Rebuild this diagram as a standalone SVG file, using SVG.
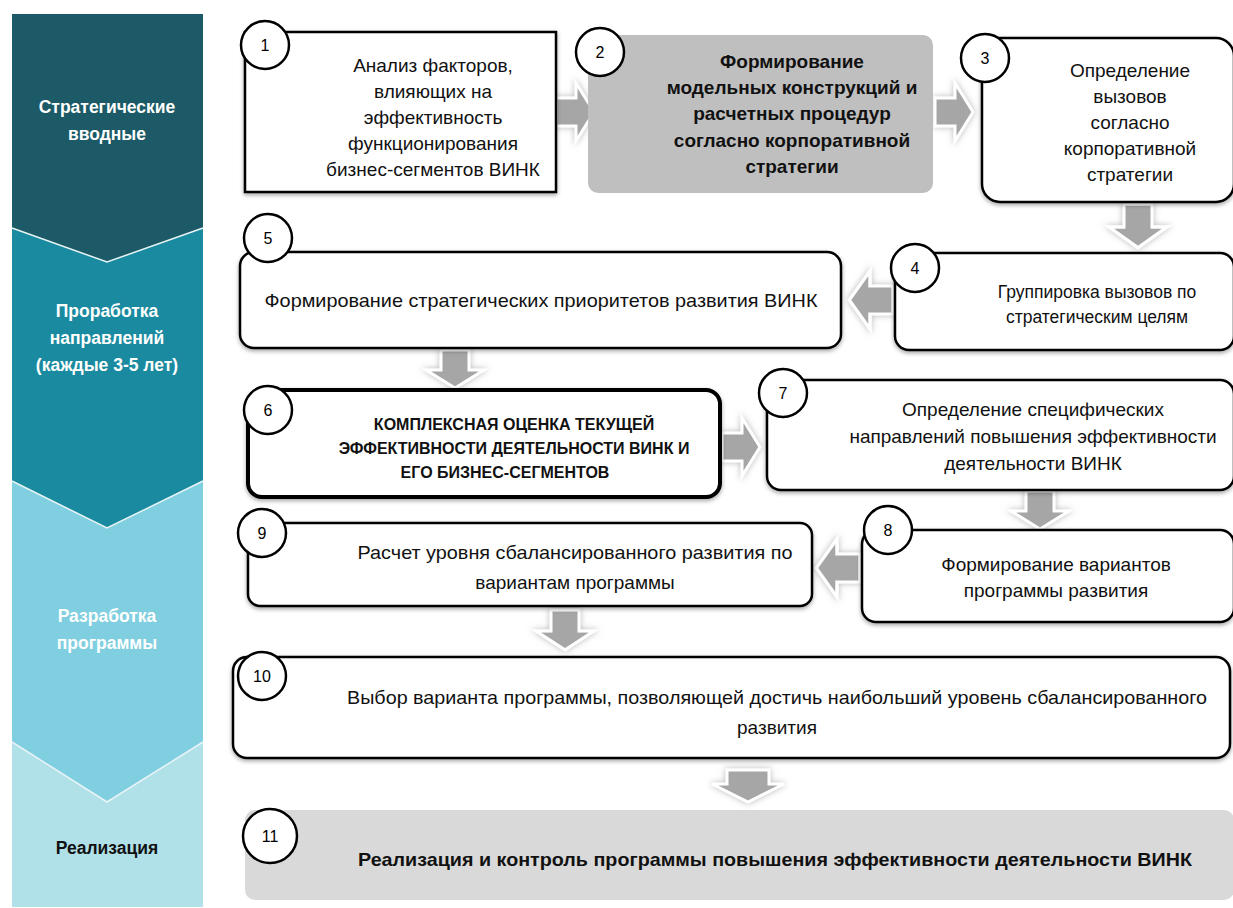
<svg xmlns="http://www.w3.org/2000/svg" width="1233" height="908" viewBox="0 0 1233 908">
<defs>
<filter id="sh" x="-20%" y="-20%" width="140%" height="140%">
<feDropShadow dx="0" dy="2" stdDeviation="2" flood-color="#000" flood-opacity="0.35"/>
</filter>
<filter id="ash" x="-40%" y="-40%" width="180%" height="180%">
<feDropShadow dx="0" dy="0" stdDeviation="3" flood-color="#888" flood-opacity="0.6"/>
</filter>
<path id="arr" d="M0,-14 H20 V-29 L38,0 L20,29 V14 H0 Z"/>
<style>
.box{fill:#fff;stroke:#000;stroke-width:2.5;filter:url(#sh)}
.num{fill:#fff;stroke:#000;stroke-width:2.5}
.n{font-family:"Liberation Sans",Arial,sans-serif;font-size:16px;fill:#000;text-anchor:middle}
.t{font-family:"Liberation Sans",Arial,sans-serif;font-size:19px;fill:#111;text-anchor:middle}
.tb{font-family:"Liberation Sans",Arial,sans-serif;font-size:19px;font-weight:bold;fill:#111;text-anchor:middle}
.s{font-family:"Liberation Sans",Arial,sans-serif;font-size:17.5px;font-weight:bold;text-anchor:middle}
.a{fill:#a6a6a6;stroke:#fff;stroke-width:3;filter:url(#ash)}
</style>
</defs>
<rect width="1233" height="908" fill="#fff"/>
<g id="stages">
<polygon points="12,742 203,742 203,907 12,907" fill="#b0e0e8"/>
<polygon points="12,481 203,481 203,742 107,802 12,742" fill="#80cfe0"/>
<polygon points="12,228 203,228 203,481 107,528 12,481" fill="#1a8aa0"/>
<polygon points="12,14 203,14 203,228 107,262 12,228" fill="#1b5a66"/>
<polyline points="12,228 107,262 203,228" fill="none" stroke="#e8f4f6" stroke-width="1.5"/>
<polyline points="12,481 107,528 203,481" fill="none" stroke="#e8f4f6" stroke-width="1.5"/>
<polyline points="12,742 107,802 203,742" fill="none" stroke="#e8f4f6" stroke-width="1.5"/>
<text class="s" fill="#fff" x="107" y="113">Стратегические</text>
<text class="s" fill="#fff" x="107" y="140">вводные</text>
<text class="s" fill="#fff" x="107" y="317">Проработка</text>
<text class="s" fill="#fff" x="107" y="344">направлений</text>
<text class="s" fill="#fff" x="107" y="371">(каждые 3-5 лет)</text>
<text class="s" fill="#fff" x="107" y="622">Разработка</text>
<text class="s" fill="#fff" x="107" y="649">программы</text>
<text class="s" fill="#111" x="107" y="854">Реализация</text>
</g>
<g id="connectors">
<use href="#arr" class="a" transform="translate(556,112)"/>
<use href="#arr" class="a" transform="translate(935,112)"/>
<use href="#arr" class="a" transform="translate(1138,204) rotate(90) scale(1.15,1)"/>
<use href="#arr" class="a" transform="translate(893,300) rotate(180) scale(1.15,1)"/>
<use href="#arr" class="a" transform="translate(455,350) rotate(90)"/>
<use href="#arr" class="a" transform="translate(722,447)"/>
<use href="#arr" class="a" transform="translate(1040,491) rotate(90)"/>
<use href="#arr" class="a" transform="translate(860,568) rotate(180) scale(1.15,1)"/>
<use href="#arr" class="a" transform="translate(565,610) rotate(90) scale(1.05,1)"/>
<path class="a" d="M727,770 H769 V784 H784 L748,802 L712,784 H727 Z"/>
</g>
<g id="n1">
<rect class="box" x="245" y="32" width="311" height="160" rx="0"/>
<circle class="num" cx="265" cy="45" r="24"/>
<text class="n" x="265" y="51">1</text>
<text class="t" x="433" y="72">Анализ факторов,</text>
<text class="t" x="433" y="98">влияющих на</text>
<text class="t" x="433" y="124">эффективность</text>
<text class="t" x="433" y="150">функционирования</text>
<text class="t" x="433" y="176">бизнес-сегментов ВИНК</text>
</g>
<g id="n2">
<rect x="588" y="35" width="345" height="158" rx="10" fill="#bfbfbf"/>
<circle class="num" cx="600" cy="52" r="24"/>
<text class="n" x="600" y="58">2</text>
<text class="tb" x="792" y="68">Формирование</text>
<text class="tb" x="792" y="94">модельных конструкций и</text>
<text class="tb" x="792" y="120">расчетных процедур</text>
<text class="tb" x="792" y="147">согласно корпоративной</text>
<text class="tb" x="792" y="173">стратегии</text>
</g>
<g id="n3">
<rect class="box" x="982" y="38" width="252" height="164" rx="18"/>
<circle class="num" cx="985" cy="58" r="24"/>
<text class="n" x="985" y="64">3</text>
<text class="t" x="1130" y="77">Определение</text>
<text class="t" x="1130" y="103">вызовов</text>
<text class="t" x="1130" y="129">согласно</text>
<text class="t" x="1130" y="155">корпоративной</text>
<text class="t" x="1130" y="181">стратегии</text>
</g>
<g id="n4">
<rect class="box" x="895" y="253" width="339" height="97" rx="14"/>
<circle class="num" cx="915" cy="268" r="24"/>
<text class="n" x="915" y="274">4</text>
<text class="t" style="font-size:17.5px" x="1097" y="298">Группировка вызовов по</text>
<text class="t" style="font-size:17.5px" x="1097" y="323">стратегическим целям</text>
</g>
<g id="n5">
<rect class="box" x="240" y="252" width="601" height="96" rx="14"/>
<circle class="num" cx="268" cy="238" r="24"/>
<text class="n" x="268" y="244">5</text>
<text class="t" x="541" y="307" textLength="553" lengthAdjust="spacingAndGlyphs">Формирование стратегических приоритетов развития ВИНК</text>
</g>
<g id="n6">
<rect class="box" x="248" y="390" width="472" height="107" rx="14" style="stroke-width:4"/>
<circle class="num" cx="268" cy="410" r="24"/>
<text class="n" x="268" y="416">6</text>
<text class="tb" style="font-size:16px" x="514" y="430">КОМПЛЕКСНАЯ ОЦЕНКА ТЕКУЩЕЙ</text>
<text class="tb" style="font-size:16px" x="514" y="454">ЭФФЕКТИВНОСТИ ДЕЯТЕЛЬНОСТИ ВИНК И</text>
<text class="tb" style="font-size:16px" x="505" y="478">ЕГО БИЗНЕС-СЕГМЕНТОВ</text>
</g>
<g id="n7">
<rect class="box" x="767" y="380" width="467" height="110" rx="14"/>
<circle class="num" cx="783" cy="393" r="24"/>
<text class="n" x="783" y="399">7</text>
<text class="t" x="1033" y="416">Определение специфических</text>
<text class="t" x="1033" y="443">направлений повышения эффективности</text>
<text class="t" x="1033" y="470">деятельности ВИНК</text>
</g>
<g id="n8">
<rect class="box" x="862" y="530" width="372" height="92" rx="14"/>
<circle class="num" cx="888" cy="530" r="24"/>
<text class="n" x="888" y="536">8</text>
<text class="t" x="1056" y="571">Формирование вариантов</text>
<text class="t" x="1056" y="597">программы развития</text>
</g>
<g id="n9">
<rect class="box" x="248" y="523" width="564" height="83" rx="12"/>
<circle class="num" cx="262" cy="533" r="24"/>
<text class="n" x="262" y="539">9</text>
<text class="t" x="575" y="559" textLength="435" lengthAdjust="spacingAndGlyphs">Расчет уровня сбалансированного развития по</text>
<text class="t" x="575" y="589">вариантам программы</text>
</g>
<g id="n10">
<rect class="box" x="233" y="657" width="997" height="101" rx="14"/>
<circle class="num" cx="262" cy="676" r="24"/>
<text class="n" x="262" y="682">10</text>
<text class="t" x="777" y="704" textLength="860" lengthAdjust="spacingAndGlyphs">Выбор варианта программы, позволяющей достичь наибольший уровень сбалансированного</text>
<text class="t" x="777" y="734">развития</text>
</g>
<g id="n11">
<rect x="245" y="810" width="989" height="90" rx="10" fill="#d9d9d9"/>
<circle class="num" cx="270" cy="836" r="27"/>
<text class="n" x="270" y="842">11</text>
<text class="tb" x="775" y="866" textLength="834" lengthAdjust="spacingAndGlyphs">Реализация и контроль программы повышения эффективности деятельности ВИНК</text>
</g>
</svg>
